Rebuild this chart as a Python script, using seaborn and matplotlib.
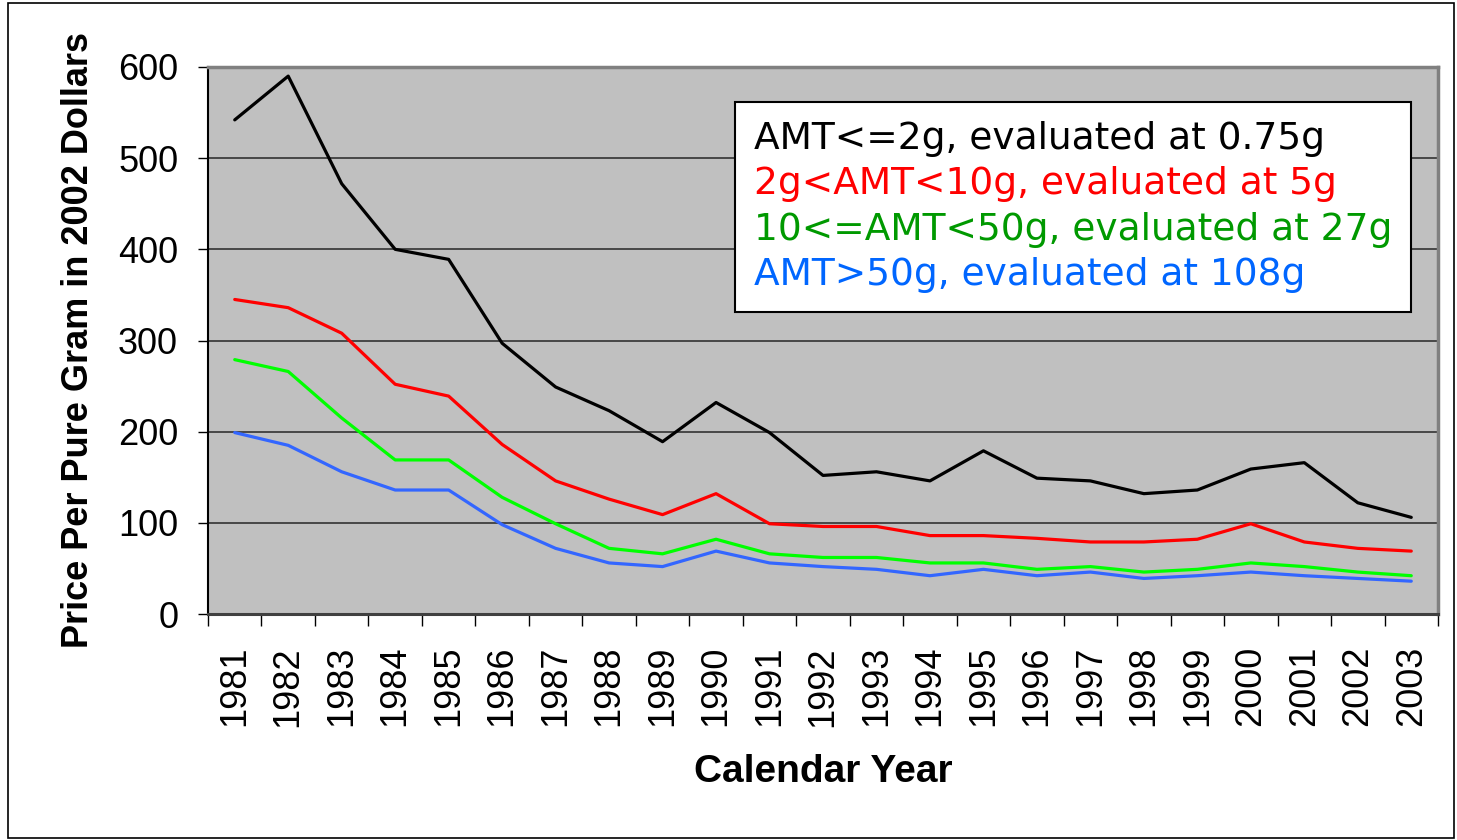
import pandas as pd
import seaborn as sns
from matplotlib import pyplot as plt
from matplotlib.patches import Rectangle

# data
years = [1981, 1982, 1983, 1984, 1985, 1986, 1987, 1988, 1989, 1990, 1991, 1992,
         1993, 1994, 1995, 1996, 1997, 1998, 1999, 2000, 2001, 2002, 2003]
amt_le_2 = [542, 590, 472, 400, 389, 297, 249, 223, 189, 232, 199, 152,
            156, 146, 179, 149, 146, 132, 136, 159, 166, 122, 106]
amt_2_10 = [345, 336, 308, 252, 239, 186, 146, 126, 109, 132, 99, 96,
            96, 86, 86, 83, 79, 79, 82, 99, 79, 72, 69]
amt_10_50 = [279, 266, 215, 169, 169, 128, 99, 72, 66, 82, 66, 62,
             62, 56, 56, 49, 52, 46, 49, 56, 52, 46, 42]
amt_gt_50 = [199, 185, 156, 136, 136, 98, 72, 56, 52, 69, 56, 52,
             49, 42, 49, 42, 46, 39, 42, 46, 42, 39, 36]

labels = ["AMT<=2g, evaluated at 0.75g",
          "2g<AMT<10g, evaluated at 5g",
          "10<=AMT<50g, evaluated at 27g",
          "AMT>50g, evaluated at 108g"]
line_colors = ["#000000", "#FF0000", "#00FF00", "#3366FF"]
text_colors = ["#000000", "#FF0000", "#009900", "#0066FF"]

df = pd.concat([
    pd.DataFrame({"year": years, "price": vals, "series": lab})
    for vals, lab in zip([amt_le_2, amt_2_10, amt_10_50, amt_gt_50], labels)
])

sns.set_style("white")
plt.rcParams['font.family'] = ['Liberation Sans', 'DejaVu Sans']
plt.rcParams['text.color'] = 'black'
plt.rcParams['axes.labelcolor'] = 'black'
plt.rcParams['xtick.color'] = 'black'
plt.rcParams['ytick.color'] = 'black'

fig = plt.figure(figsize=(14.57, 8.4), dpi=100)
ax = fig.add_axes([208/1457, 226/840, 1230/1457, 547/840])
ax.set_facecolor("#C0C0C0")

sns.lineplot(data=df, x="year", y="price", hue="series", hue_order=labels,
             palette=line_colors, linewidth=2.3, ax=ax, zorder=3)

ax.set_xlim(1980.5, 2003.5)
ax.set_ylim(0, 600)
ax.set_yticks(range(0, 601, 100))
ax.set_xticks(years)
ax.set_xticks([y + 0.5 for y in years[:-1]] + [1980.5, 2003.5], minor=True)
ax.set_xticklabels([str(y) for y in years], rotation=90)

ax.yaxis.grid(True, color="#333333", linewidth=1.2, zorder=1)
ax.xaxis.grid(False)

ax.tick_params(axis="y", which="major", left=True, length=7.5, width=1,
               color="black", pad=14, labelsize=26)
ax.tick_params(axis="x", which="major", bottom=True, length=0, pad=23, labelsize=26)
ax.tick_params(axis="x", which="minor", bottom=True, length=8.5, width=1, color="black")

for side, col, lw in [("left", "#000000", 1.5), ("bottom", "#404040", 2.2),
                      ("top", "#808080", 2.5), ("right", "#808080", 2.5)]:
    ax.spines[side].set_visible(True)
    ax.spines[side].set_color(col)
    ax.spines[side].set_linewidth(lw)

ax.set_ylabel("Price Per Pure Gram in 2002 Dollars", fontsize=26, fontweight="bold", labelpad=16)
ax.set_xlabel("Calendar Year", fontsize=28, fontweight="bold", labelpad=20)

leg = ax.legend(loc="upper right", bbox_to_anchor=(0.978, 0.936), borderaxespad=0,
                prop={"family": ["DejaVu Sans"], "size": 27},
                handlelength=0, handletextpad=0, labelspacing=0.25,
                fancybox=False, frameon=True, borderpad=0.5)
leg.get_frame().set_edgecolor("black")
leg.get_frame().set_linewidth(1.5)
leg.get_frame().set_facecolor("white")
leg.get_frame().set_alpha(1)
for h in leg.legend_handles:
    h.set_visible(False)
for t, c in zip(leg.get_texts(), text_colors):
    t.set_color(c)

fig.patches.append(Rectangle((8/1457, 2/840), 1446/1457, 835/840, transform=fig.transFigure,
                             fill=False, edgecolor="black", linewidth=1.2))

fig.savefig("out.png", dpi=100)
